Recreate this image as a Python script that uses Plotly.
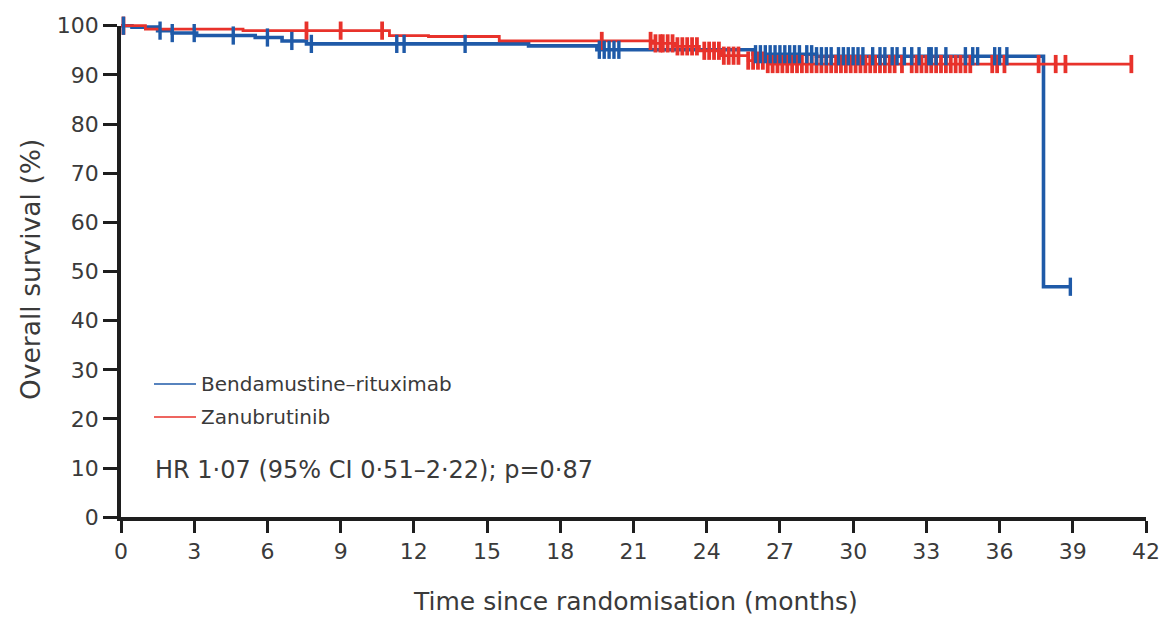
import plotly.graph_objects as go
import numpy as np

# ---------------- data ----------------
# Bendamustine-rituximab (blue) step curve
br_time = [0, 0.45, 1.5, 2.1, 3.1, 5.5, 6.6, 7.6, 16.7, 19.5, 25.9, 28.5, 37.8, 38.9]
br_surv = [100, 99.7, 99.0, 98.5, 98.0, 97.6, 96.9, 96.3, 95.9, 95.1, 94.2, 93.8, 46.9, 46.9]
br_cens = [0.1, 1.6, 2.1, 3.0, 4.6, 6.0, 7.0, 7.8, 11.3, 11.6, 14.1,
           19.6, 19.8, 20.0, 20.2, 20.4,
           26.0, 26.2, 26.4, 26.6, 26.8, 27.0, 27.2, 27.4, 27.6, 27.8,
           28.1, 28.3, 28.5, 28.7, 28.9, 29.1,
           29.4, 29.6, 29.8, 30.0, 30.2, 30.4,
           30.8, 31.1, 31.3, 31.6, 31.8, 32.1, 32.4, 32.7, 33.1, 33.2, 33.4,
           33.8, 34.6, 34.9, 35.1, 35.8, 36.0, 36.3, 38.9]

# Zanubrutinib (red) step curve
zan_time = [0, 1.0, 5.0, 11.0, 12.6, 15.5, 21.8, 22.7, 23.7, 24.6, 25.7, 26.5, 41.4]
zan_surv = [100, 99.3, 99.0, 98.0, 97.8, 96.9, 96.4, 95.8, 94.9, 93.9, 92.9, 92.2, 92.2]
zan_cens = [0.1, 7.6, 9.0, 10.7, 19.7,
            21.7, 21.9, 22.1, 22.2, 22.4, 22.6, 22.8, 23.0, 23.2, 23.4, 23.6,
            23.9, 24.1, 24.3, 24.5, 24.7, 24.9, 25.1, 25.3,
            25.7, 25.9, 26.1, 26.3, 26.5, 26.7, 26.9, 27.1, 27.3, 27.5, 27.7, 27.9, 28.1, 28.3, 28.5,
            28.7, 28.9, 29.1, 29.3, 29.5, 29.7, 29.9, 30.1, 30.3, 30.5, 30.7,
            30.9, 31.1, 31.3, 31.5, 31.7, 32.0,
            32.4, 32.6, 32.8, 33.0, 33.2, 33.4, 33.6, 33.8, 34.0, 34.2, 34.4,
            34.6, 34.8, 35.7, 35.9, 36.2, 37.6, 38.3, 38.7, 41.4]

x_ticks = list(range(0, 43, 3))
y_ticks = list(range(0, 101, 10))

BLUE = "#1f5aa8"
RED = "#e8322b"
AXC = "#1e1e1e"
TXT = "#3a3a3a"
FONT = "DejaVu Sans"

W, H = 1165, 617
# pixel geometry of the visible axes
X0, X1 = 121.0, 1146.0      # month 0 and month 42
Y0, Y100 = 517.3, 25.7      # 0 % and 100 %
pxm = (X1 - X0) / 42.0
pxp = (Y0 - Y100) / 100.0


def level_at(times, surv, t):
    idx = np.searchsorted(np.array(times), t, side="right") - 1
    return surv[max(idx, 0)]


fig = go.Figure()

# invisible trace so the visible x/y axes get drawn
fig.add_trace(go.Scatter(x=[0], y=[0], mode="markers", marker=dict(opacity=0),
                         xaxis="x", yaxis="y", showlegend=False, hoverinfo="skip"))

for times, surv, col, w in [(br_time, br_surv, BLUE, 3.6),
                            (zan_time, zan_surv, RED, 2.8)]:
    fig.add_trace(go.Scatter(x=times, y=surv, mode="lines", line_shape="hv",
                             line=dict(color=col, width=w), xaxis="x2", yaxis="y2",
                             showlegend=False, hoverinfo="skip"))
for times, surv, cens, col, w in [(zan_time, zan_surv, zan_cens, RED, 3.8),
                                  (br_time, br_surv, br_cens, BLUE, 3.4)]:
    fig.add_trace(go.Scatter(x=cens, y=[level_at(times, surv, t) for t in cens],
                             mode="markers",
                             marker=dict(symbol="line-ns", size=13,
                                         line=dict(color=col, width=w)),
                             xaxis="x2", yaxis="y2", showlegend=False, hoverinfo="skip"))

fig.update_layout(
    width=W, height=H,
    margin=dict(l=0, r=0, t=0, b=0),
    paper_bgcolor="white", plot_bgcolor="rgba(0,0,0,0)",
    template="none",
    showlegend=False,
    xaxis=dict(domain=[X0 / W, X1 / W], range=[0, 42], anchor="y",
               tickvals=x_ticks, ticks="outside", ticklen=12, tickwidth=3,
               tickcolor=AXC, showline=True, linewidth=3.5, linecolor=AXC,
               showgrid=False, zeroline=False, automargin=False,
               tickfont=dict(family=FONT, size=22, color=TXT)),
    yaxis=dict(domain=[(H - Y0) / H, (H - Y100) / H], range=[0, 100], anchor="x",
               tickvals=y_ticks, ticks="outside", ticklen=14, tickwidth=3,
               tickcolor=AXC, showline=True, linewidth=3.5, linecolor=AXC,
               showgrid=False, zeroline=False, automargin=False,
               tickfont=dict(family=FONT, size=22, color=TXT)),
    xaxis2=dict(domain=[0, 1], anchor="y2", visible=False,
                range=[-X0 / pxm, (W - X0) / pxm]),
    yaxis2=dict(domain=[0, 1], anchor="x2", visible=False,
                range=[-(H - Y0) / pxp, 100 + Y100 / pxp]),
)


def px(x):
    return x / W


def py(y):
    return 1 - y / H


# legend (drawn manually)
for yy, col, label in [(384, BLUE, "Bendamustine\u2013rituximab"), (417, RED, "Zanubrutinib")]:
    fig.add_shape(type="line", xref="paper", yref="paper",
                  x0=px(154), x1=px(196), y0=py(yy), y1=py(yy),
                  line=dict(color=col, width=1.6))
    fig.add_annotation(x=px(199), y=py(yy), xref="paper", yref="paper",
                       text=label, showarrow=False, xanchor="left", yanchor="middle",
                       font=dict(family=FONT, size=20, color=TXT))

fig.add_annotation(x=px(153), y=py(470), xref="paper", yref="paper",
                   text="HR 1\u00b707 (95% CI 0\u00b751\u20132\u00b722); p=0\u00b787",
                   showarrow=False, xanchor="left", yanchor="middle",
                   font=dict(family=FONT, size=24, color=TXT))

fig.add_annotation(x=px(30), y=py(270), xref="paper", yref="paper",
                   text="Overall survival (%)", textangle=-90, showarrow=False,
                   xanchor="center", yanchor="middle",
                   font=dict(family=FONT, size=26.5, color=TXT))
fig.add_annotation(x=px(635), y=py(601), xref="paper", yref="paper",
                   text="Time since randomisation (months)", showarrow=False,
                   xanchor="center", yanchor="middle",
                   font=dict(family=FONT, size=25, color=TXT))

fig.write_html("out.html")
